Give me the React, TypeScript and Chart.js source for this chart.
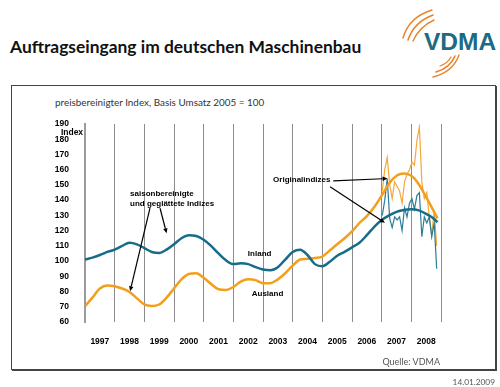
import React, { useEffect, useRef } from 'react';
import { Chart, registerables } from 'chart.js';

Chart.register(...registerables);

// ---------- data ----------
const yearLabels = ['1997', '1998', '1999', '2000', '2001', '2002', '2003', '2004', '2005', '2006', '2007', '2008'];

// smoothed (seasonally adjusted) series, quarterly readings
const smoothX = [
  1997.0, 1997.25, 1997.5, 1997.75, 1998.0, 1998.25, 1998.5, 1998.75,
  1999.0, 1999.25, 1999.5, 1999.75, 2000.0, 2000.25, 2000.5, 2000.75,
  2001.0, 2001.25, 2001.5, 2001.75, 2002.0, 2002.25, 2002.5, 2002.75,
  2003.0, 2003.25, 2003.5, 2003.75, 2004.0, 2004.25, 2004.5, 2004.75,
  2005.0, 2005.25, 2005.5, 2005.75, 2006.0, 2006.25, 2006.5, 2006.75,
  2007.0, 2007.25, 2007.5, 2007.75, 2008.0, 2008.25, 2008.5, 2008.75, 2008.88,
];
const inlandSmooth = [
  101, 102.3, 104, 106, 107.5, 110, 112, 111,
  108.5, 106, 105.3, 107.5, 111, 115, 117, 116.5,
  114, 110, 105, 100.5, 98, 98.5, 98, 96,
  94.5, 94, 96, 101, 106, 107.5, 104, 98,
  96.6, 99.5, 103.5, 106, 109, 112, 117, 122.5,
  127, 130, 132.3, 133.6, 134, 133.3, 131, 128, 125.5,
];
const auslandSmooth = [
  70.3, 76, 82, 84, 83.5, 82, 79.7, 75.5,
  71.5, 70.5, 71.5, 76, 82, 88, 91.5, 92,
  89, 85, 81.5, 81, 83, 86.5, 88, 87.5,
  85.5, 85.5, 88, 92, 97, 101, 101.5, 102,
  103, 107, 111, 115, 119.5, 125, 129.5, 135.5,
  143, 151, 156, 157.5, 156, 150.5, 142, 133, 128,
];

// original (unadjusted) monthly indices, Jan 2007 – Nov 2008
const origStartYear = 2007;
const inlandOrig = [
  130, 140, 154, 128, 122, 129, 127, 129, 120, 135, 129, 138,
  141, 134, 143, 145, 116, 129, 125, 129, 116, 125, 95,
];
const auslandOrig = [
  146, 160, 168, 150, 141, 152, 149, 146, 138, 152, 157, 160,
  165, 163, 179, 188, 152, 141, 145, 129, 117, 133, 110,
];

// annotations (data coordinates)
const textLabels = [
  { text: 'saisonbereinigte', x: 1998.52, y: 144.3 },
  { text: 'und geglättete Indizes', x: 1998.52, y: 137.7 },
  { text: 'Originalindizes', x: 2003.34, y: 153.4 },
  { text: 'Inland', x: 2002.49, y: 104.9 },
  { text: 'Ausland', x: 2002.62, y: 78.2 },
];
const arrows = [
  { x1: 1999.19, y1: 134.7, x2: 1998.52, y2: 80.2 },
  { x1: 1999.53, y1: 134.7, x2: 1999.75, y2: 118.2 },
  { x1: 2005.37, y1: 152.6, x2: 2007.2, y2: 154.2 },
  { x1: 2005.26, y1: 148.8, x2: 2007.11, y2: 125.1 },
];

const TEAL = '#176c88';
const ORANGE = '#f29f1c';
const LABEL_FONT = '"Liberation Sans", Arial, sans-serif';

const annotationPlugin = {
  id: 'vdmaAnnotations',
  afterDatasetsDraw(chart: any) {
    const { ctx, chartArea } = chart;
    const xs = chart.scales.x;
    const ys = chart.scales.y;
    ctx.save();
    ctx.fillStyle = '#000';
    ctx.font = `bold 8px ${LABEL_FONT}`;
    ctx.textBaseline = 'middle';
    ctx.textAlign = 'left';
    for (const t of textLabels) {
      ctx.fillText(t.text, xs.getPixelForValue(t.x), ys.getPixelForValue(t.y));
    }
    // "Index" axis label
    ctx.textAlign = 'center';
    ctx.font = `bold 8.5px ${LABEL_FONT}`;
    ctx.fillText('Index', chartArea.left - 13, ys.getPixelForValue(184.6));

    ctx.strokeStyle = '#000';
    ctx.lineWidth = 1.2;
    for (const a of arrows) {
      const x1 = xs.getPixelForValue(a.x1);
      const y1 = ys.getPixelForValue(a.y1);
      const x2 = xs.getPixelForValue(a.x2);
      const y2 = ys.getPixelForValue(a.y2);
      const ang = Math.atan2(y2 - y1, x2 - x1);
      const len = 5;
      const w = 2.2;
      const bx = x2 - len * Math.cos(ang);
      const by = y2 - len * Math.sin(ang);
      ctx.beginPath();
      ctx.moveTo(x1, y1);
      ctx.lineTo(bx, by);
      ctx.stroke();
      ctx.beginPath();
      ctx.moveTo(x2, y2);
      ctx.lineTo(bx + w * Math.sin(ang), by - w * Math.cos(ang));
      ctx.lineTo(bx - w * Math.sin(ang), by + w * Math.cos(ang));
      ctx.closePath();
      ctx.fill();
    }
    ctx.restore();
  },
};

function VdmaChart() {
  const canvasRef = useRef<HTMLCanvasElement | null>(null);

  useEffect(() => {
    const canvas = canvasRef.current;
    if (!canvas) return;
    const smoothPts = (vals: number[]) => vals.map((v, i) => ({ x: smoothX[i], y: v }));
    const origPts = (vals: number[]) => vals.map((v, i) => ({ x: origStartYear + (i + 0.25) / 12, y: v }));

    const chart = new Chart(canvas, {
      type: 'line',
      data: {
        datasets: [
          {
            label: 'Inland (saisonbereinigt)',
            data: smoothPts(inlandSmooth),
            borderColor: TEAL,
            borderWidth: 2.5,
            cubicInterpolationMode: 'monotone',
            pointRadius: 0,
            order: 0,
          },
          {
            label: 'Ausland (saisonbereinigt)',
            data: smoothPts(auslandSmooth),
            borderColor: ORANGE,
            borderWidth: 2.5,
            cubicInterpolationMode: 'monotone',
            pointRadius: 0,
            order: 1,
          },
          {
            label: 'Inland (Original)',
            data: origPts(inlandOrig),
            borderColor: '#2a7d97',
            borderWidth: 1.2,
            pointRadius: 0,
            tension: 0,
            order: 2,
          },
          {
            label: 'Ausland (Original)',
            data: origPts(auslandOrig),
            borderColor: '#f3a83c',
            borderWidth: 1.2,
            pointRadius: 0,
            tension: 0,
            order: 3,
          },
        ],
      },
      options: {
        responsive: false,
        animation: false,
        devicePixelRatio: 1,
        layout: { padding: { left: 0, right: 59, top: 124, bottom: 0 } },
        plugins: { legend: { display: false }, tooltip: { enabled: false } },
        scales: {
          x: {
            type: 'linear',
            position: 'bottom',
            min: 1997,
            max: 2009,
            ticks: { display: false, stepSize: 1 },
            grid: { color: '#8c8c8c', lineWidth: 1, drawTicks: false },
            border: { display: false },
            afterFit: (s: any) => { s.height = 0; },
          },
          x2: {
            type: 'linear',
            position: 'bottom',
            min: 1997,
            max: 2009,
            grid: { display: false },
            border: { display: false },
            afterBuildTicks: (s: any) => {
              s.ticks = yearLabels.map((_, i) => ({ value: 1997.5 + i }));
            },
            ticks: {
              autoSkip: false,
              maxRotation: 0,
              padding: 7,
              color: '#000',
              font: { family: LABEL_FONT, size: 8.5, weight: 'bold' },
              callback: (_v: any, i: number) => yearLabels[i],
            },
            afterFit: (s: any) => { s.height = 65; },
          },
          y: {
            type: 'linear',
            min: 60,
            max: 190,
            ticks: {
              stepSize: 10,
              padding: 8,
              color: '#000',
              font: { family: LABEL_FONT, size: 8.5, weight: 'bold' },
            },
            grid: { display: false },
            border: { display: true, color: '#9a9a9a', width: 2 },
            afterFit: (s: any) => { s.width = 85; },
          },
        },
      },
      plugins: [annotationPlugin],
    } as any);
    return () => chart.destroy();
  }, []);

  return <canvas ref={canvasRef} width={500} height={387} style={{ position: 'absolute', left: 0, top: 0 }} />;
}

export default function App() {
  return (
    <div style={{ position: 'fixed', left: 0, top: 0, width: 500, height: 387, background: '#fff', overflow: 'hidden' }}>
      <div style={{ position: 'absolute', left: 11, top: 85, width: 485, height: 285, boxSizing: 'border-box', border: '1px solid #444', boxShadow: '1px 1px 0 #444' }} />
      <div style={{ position: 'absolute', left: 10, top: 38, fontFamily: 'Lato, sans-serif', fontWeight: 700, fontSize: 17.4, lineHeight: '18px', color: '#111', whiteSpace: 'nowrap' }}>
        Auftragseingang im deutschen Maschinenbau
      </div>
      <svg width={100} height={85} viewBox="400 0 100 85" style={{ position: 'absolute', left: 400, top: 0 }}>
        <g fill="none" stroke="#e8842c" strokeLinecap="round">
          <path d="M 403 38 Q 409 17 432 10" strokeWidth={1.4} />
          <path d="M 408 40 Q 414 22 433 15" strokeWidth={1.6} />
          <path d="M 413 41 Q 419 27 434 20" strokeWidth={1.4} />
          <path d="M 433 77 Q 453 72 459 55" strokeWidth={1.4} />
          <path d="M 436 72 Q 450 68 455 56" strokeWidth={1.6} />
          <path d="M 440 66 Q 448 63 451 57" strokeWidth={1.2} />
        </g>
        <text x={424} y={50} fontFamily='"Liberation Sans", Arial, sans-serif' fontWeight={700} fontSize={24.5} fill="#1b6b85">VDMA</text>
      </svg>
      <div style={{ position: 'absolute', left: 55, top: 96, fontFamily: 'Lato, sans-serif', fontSize: 9.9, lineHeight: '12px', color: '#333', whiteSpace: 'nowrap' }}>
        preisbereinigter Index, Basis Umsatz 2005 = 100
      </div>
      <VdmaChart />
      <div style={{ position: 'absolute', right: 60, top: 356, fontFamily: 'Lato, sans-serif', fontSize: 9, lineHeight: '11px', color: '#555', whiteSpace: 'nowrap' }}>
        Quelle: VDMA
      </div>
      <div style={{ position: 'absolute', right: 5, top: 377, fontFamily: 'Lato, sans-serif', fontSize: 8.3, lineHeight: '10px', color: '#555', whiteSpace: 'nowrap' }}>
        14.01.2009
      </div>
    </div>
  );
}
